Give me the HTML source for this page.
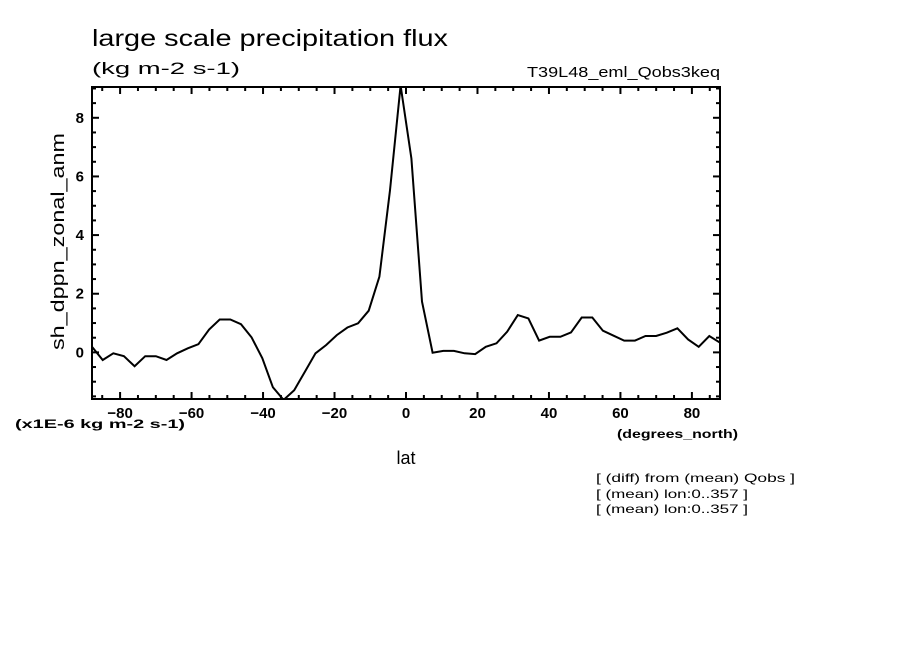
<!DOCTYPE html>
<html><head><meta charset="utf-8"><style>
body{margin:0;background:#fff;}
svg{display:block;font-family:"Liberation Sans",sans-serif;}
</style></head><body>
<svg id="chart" width="904" height="654" viewBox="0 0 904 654">
<text x="92" y="46" font-size="23" textLength="356" lengthAdjust="spacingAndGlyphs">large scale precipitation flux</text>
<text x="92" y="74" font-size="17" textLength="148" lengthAdjust="spacingAndGlyphs">(kg m-2 s-1)</text>
<text x="527" y="77" font-size="15" textLength="193" lengthAdjust="spacingAndGlyphs">T39L48_eml_Qobs3keq</text>
<text transform="translate(64,350) rotate(-90)" font-size="18" textLength="217" lengthAdjust="spacingAndGlyphs">sh_dppn_zonal_anm</text>
<text x="406" y="464" font-size="18" text-anchor="middle">lat</text>
<text x="15" y="428" font-size="12" font-weight="bold" textLength="170" lengthAdjust="spacingAndGlyphs">(x1E-6 kg m-2 s-1)</text>
<text x="617" y="438" font-size="12" font-weight="bold" textLength="121" lengthAdjust="spacingAndGlyphs">(degrees_north)</text>
<text x="596" y="482" font-size="12" textLength="199" lengthAdjust="spacingAndGlyphs">[ (diff) from (mean) Qobs ]</text>
<text x="596" y="498" font-size="12" textLength="152" lengthAdjust="spacingAndGlyphs">[ (mean) lon:0..357 ]</text>
<text x="596" y="513" font-size="12" textLength="152" lengthAdjust="spacingAndGlyphs">[ (mean) lon:0..357 ]</text>
<g id="axes"></g>
<g id="plot"></g>
<rect x="92" y="87" width="628" height="312" fill="none" stroke="#000" stroke-width="2"/>
</svg>
<script>
const lats=[-87.86,-84.88,-81.90,-78.93,-75.95,-72.97,-69.99,-67.01,-64.04,-61.06,-58.08,-55.10,-52.12,-49.15,-46.17,-43.19,-40.21,-37.23,-34.26,-31.28,-28.30,-25.32,-22.34,-19.37,-16.39,-13.41,-10.43,-7.45,-4.48,-1.50,1.50,4.48,7.45,10.43,13.41,16.39,19.37,22.34,25.32,28.30,31.28,34.26,37.23,40.21,43.19,46.17,49.15,52.12,55.10,58.08,61.06,64.04,67.01,69.99,72.97,75.95,78.93,81.90,84.88,87.86];
const values=[0.19,-0.26,-0.03,-0.13,-0.47,-0.13,-0.13,-0.26,-0.03,0.14,0.28,0.78,1.12,1.12,0.96,0.51,-0.2,-1.19,-1.62,-1.29,-0.66,-0.03,0.25,0.59,0.85,0.99,1.42,2.58,5.53,9.1,6.61,1.73,-0.01,0.05,0.05,-0.03,-0.06,0.19,0.31,0.7,1.27,1.16,0.4,0.53,0.53,0.68,1.19,1.19,0.74,0.57,0.4,0.4,0.56,0.56,0.67,0.82,0.44,0.19,0.56,0.33];
const xTicks=[-80,-60,-40,-20,0,20,40,60,80];
const yTicks=[0,2,4,6,8];
const X0=92,X1=720,Y0=87,Y1=399,xmin=-87.86,xmax=87.86,ymin=-1.59,ymax=9.05;
const sx=v=>X0+(v-xmin)/(xmax-xmin)*(X1-X0);
const sy=v=>Y1-(v-ymin)/(ymax-ymin)*(Y1-Y0);
const NS="http://www.w3.org/2000/svg";
const axes=document.getElementById('axes'),plot=document.getElementById('plot');
function ln(g,x1,y1,x2,y2,w){const l=document.createElementNS(NS,'line');l.setAttribute('x1',x1);l.setAttribute('y1',y1);l.setAttribute('x2',x2);l.setAttribute('y2',y2);l.setAttribute('stroke','#000');l.setAttribute('stroke-width',w);g.appendChild(l);return l;}
for(let d=-85;d<=85;d+=5){const x=sx(d);const major=d%20===0;const L=major?7:4;
 const a=ln(axes,x,Y1,x,Y1-L,2);
 
 
 const b=ln(axes,x,Y0,x,Y0+L,2);
 
 }
for(let v=-1.5;v<=9;v+=0.5){const y=sy(v);const major=Math.abs(v%2)<1e-9;const L=major?7:4;
 const a=ln(axes,X0,y,X0+L,y,2);
 
 
 const b=ln(axes,X1,y,X1-L,y,2);
 
 }
xTicks.forEach(t=>{const e=document.createElementNS(NS,'text');e.setAttribute('x',sx(t));e.setAttribute('y',Y1+19);e.setAttribute('font-size','15');e.setAttribute('font-weight','bold');e.setAttribute('text-anchor','middle');e.textContent=String(t).replace('-','\u2212');
 
 
 axes.appendChild(e);});
yTicks.forEach(t=>{const e=document.createElementNS(NS,'text');e.setAttribute('x',X0-8);e.setAttribute('y',sy(t)+5);e.setAttribute('font-size','15');e.setAttribute('font-weight','bold');e.setAttribute('text-anchor','end');e.textContent=t;
 
 
 axes.appendChild(e);});
const cp=document.createElementNS(NS,'clipPath');cp.setAttribute('id','clip');const cr=document.createElementNS(NS,'rect');cr.setAttribute('x',X0);cr.setAttribute('y',Y0);cr.setAttribute('width',X1-X0);cr.setAttribute('height',Y1-Y0);cp.appendChild(cr);plot.appendChild(cp);
const p=document.createElementNS(NS,'polyline');
p.setAttribute('points',lats.map((l,i)=>sx(l).toFixed(1)+','+sy(values[i]).toFixed(1)).join(' '));
p.setAttribute('fill','none');p.setAttribute('stroke','#000');p.setAttribute('stroke-width','2');p.setAttribute('clip-path','url(#clip)');


plot.appendChild(p);
</script>
</body></html>
